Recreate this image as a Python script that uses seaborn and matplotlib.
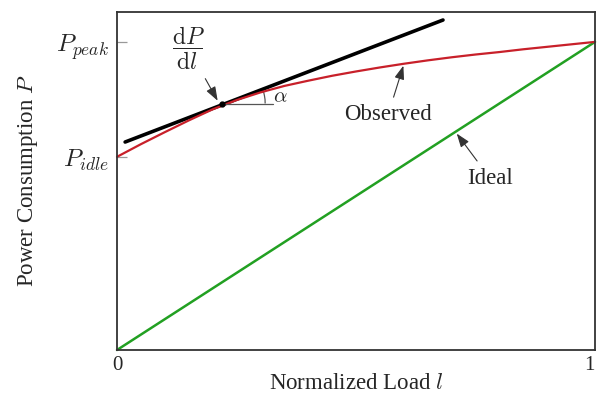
import numpy as np
import pandas as pd
import matplotlib
matplotlib.use("Agg")
import matplotlib.pyplot as plt
import matplotlib.patches as mpatches
import matplotlib.transforms as mtrans
import seaborn as sns

# ---- data ----
load_obs = [0.0, 0.05, 0.10, 0.15, 0.20, 0.25, 0.30, 0.35, 0.40, 0.45, 0.50, 0.55, 0.60,
            0.65, 0.70, 0.75, 0.80, 0.85, 0.90, 0.95, 1.0]
power_obs = [0.627, 0.668, 0.707, 0.745, 0.781, 0.811, 0.836, 0.857, 0.874, 0.890, 0.904,
             0.917, 0.929, 0.940, 0.950, 0.959, 0.967, 0.976, 0.984, 0.992, 1.0]
load_ideal = [0.0, 1.0]
power_ideal = [0.0, 1.0]
tangent_l = [0.017, 0.682]
tangent_p = [0.675, 1.071]
tangent_point = (0.22, 0.80)
P_idle = 0.627
P_peak = 1.0
ytick_labels = [r"$P_{idle}$", r"$P_{peak}$"]
xtick_labels = ["0", "1"]

sns.set_style("white")
plt.rcParams["font.family"] = ["Liberation Serif", "DejaVu Serif"]
plt.rcParams["mathtext.fontset"] = "cm"

fig = plt.figure(figsize=(5.97, 4.0), dpi=100)
ax = fig.add_axes([117/597, 50/400, (595-117)/597, (350-12)/400])

df_obs = pd.DataFrame({"l": load_obs, "P": power_obs})
df_ideal = pd.DataFrame({"l": load_ideal, "P": power_ideal})
df_tan = pd.DataFrame({"l": tangent_l, "P": tangent_p})

sns.lineplot(data=df_ideal, x="l", y="P", ax=ax, color="#22a022", lw=1.8, clip_on=False)
sns.lineplot(data=df_tan, x="l", y="P", ax=ax, color="black", lw=2.6, clip_on=False)
sns.lineplot(data=df_obs, x="l", y="P", ax=ax, color="#c8202a", lw=1.6, clip_on=False)

ax.set_xlim(0, 1)
ax.set_ylim(0, 1.097)

# tangent point marker and horizontal reference
ax.plot([tangent_point[0]], [tangent_point[1]], "o", color="black", ms=3.5, zorder=5)
ax.plot([tangent_point[0], tangent_point[0] + 0.107], [tangent_point[1]] * 2,
        color="#555555", lw=0.9)

# angle arc drawn in inches around the tangent point
arc_trans = fig.dpi_scale_trans + mtrans.ScaledTranslation(
    tangent_point[0], tangent_point[1], ax.transData)
arc = mpatches.Arc((0, 0), 0.86, 0.86, theta1=0, theta2=21, transform=arc_trans,
                   color="#555555", lw=0.9)
ax.add_patch(arc)
ax.annotate(r"$\alpha$", xy=(0.342, 0.82), fontsize=15, ha="center", va="center")

arrow_kw = dict(arrowstyle="-|>,head_length=0.5,head_width=0.18", color="#333333", lw=0.8,
                shrinkA=3, shrinkB=1)
ax.annotate(r"$\dfrac{\mathrm{d}P}{\mathrm{d}l}$", xy=(0.212, 0.805), xytext=(0.149, 0.98),
            fontsize=17, ha="center", va="center", arrowprops=arrow_kw)
ax.annotate("Observed", xy=(0.6, 0.927), xytext=(0.567, 0.763), fontsize=16.5,
            ha="center", va="center", arrowprops=arrow_kw)
ax.annotate("Ideal", xy=(0.709, 0.706), xytext=(0.78, 0.558), fontsize=16.5,
            ha="center", va="center", arrowprops=arrow_kw)

# ticks
ax.set_yticks([P_idle, P_peak])
ax.set_yticklabels(ytick_labels, fontsize=18)
ax.set_xticks([0, 1])
ax.set_xticklabels(xtick_labels, fontsize=15)
ax.get_xticklabels()[-1].set_horizontalalignment("right")
ax.tick_params(axis="y", direction="in", length=7.5, width=0.9, color="#999999", pad=6, left=True)
ax.tick_params(axis="x", length=0, pad=4)

for s in ax.spines.values():
    s.set_color("#333333")
    s.set_linewidth(1.3)

ax.set_xlabel(r"Normalized Load $l$", fontsize=16.5)
ax.set_ylabel(r"Power Consumption $P$", fontsize=16.5)
ax.xaxis.label.set_verticalalignment("center")
ax.xaxis.set_label_coords(0.5, -0.098)
ax.yaxis.label.set_verticalalignment("center")
ax.yaxis.label.set_horizontalalignment("center")
ax.yaxis.set_label_coords(-0.186, 0.5)

fig.savefig("out.png", dpi=100)
